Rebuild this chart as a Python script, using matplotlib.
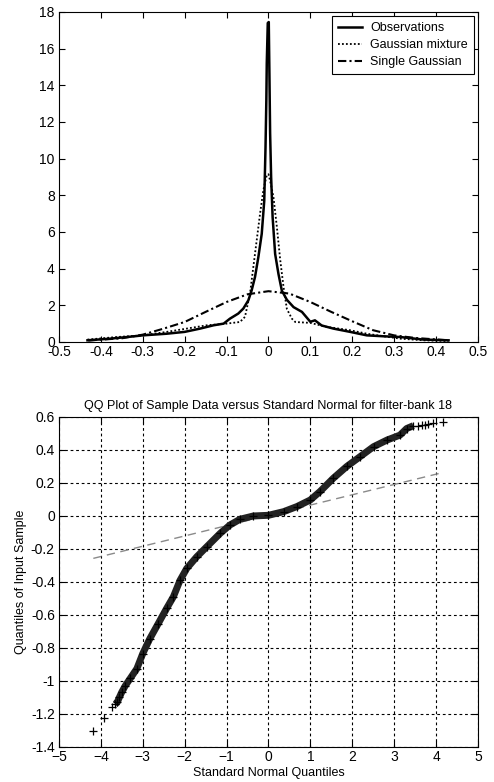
import matplotlib
matplotlib.use("Agg")
import matplotlib.pyplot as plt

plt.rcParams["font.family"] = ["Liberation Sans", "DejaVu Sans"]
plt.rcParams["font.size"] = 10

# --- top panel: densities ---
obs_x = [-0.432, -0.378, -0.32, -0.3, -0.243, -0.2, -0.163, -0.131, -0.107, -0.092,
         -0.072, -0.06, -0.048, -0.04, -0.032, -0.024, -0.016, -0.010, -0.007, -0.005,
         -0.004, -0.0016, 0.0008, 0.0024, 0.004, 0.0064, 0.01, 0.016, 0.024, 0.032,
         0.044, 0.06, 0.08, 0.1, 0.111, 0.127, 0.155, 0.195, 0.235, 0.275,
         0.315, 0.37, 0.43]
obs_y = [0.09, 0.18, 0.31, 0.36, 0.45, 0.55, 0.73, 0.91, 1.0, 1.27,
         1.55, 1.82, 2.27, 2.82, 3.55, 4.64, 5.9, 7.7, 10.6, 13.2,
         15.2, 17.4, 17.45, 14.5, 11.4, 9.0, 6.8, 4.8, 3.7, 2.8,
         2.3, 1.9, 1.64, 1.1, 1.18, 0.9, 0.73, 0.55, 0.36, 0.31,
         0.27, 0.13, 0.09]

mix_x = [-0.432, -0.362, -0.3, -0.243, -0.195, -0.147, -0.1, -0.068, -0.056, -0.044,
         -0.036, -0.028, -0.02, -0.012, -0.004, 0.0, 0.004, 0.012, 0.02, 0.028,
         0.036, 0.044, 0.056, 0.064, 0.1, 0.14, 0.195, 0.235, 0.275, 0.315,
         0.37, 0.43]
mix_y = [0.13, 0.27, 0.36, 0.55, 0.73, 0.91, 1.0, 1.09, 1.37, 2.64,
         4.1, 5.55, 7.0, 8.3, 9.1, 9.15, 8.8, 7.9, 6.3, 4.5,
         3.0, 1.8, 1.27, 1.09, 1.04, 0.82, 0.64, 0.45, 0.31, 0.18,
         0.09, 0.05]

gau_x = [-0.43, -0.35, -0.3, -0.25, -0.2, -0.15, -0.1, -0.05, 0.0,
         0.05, 0.1, 0.15, 0.2, 0.25, 0.3, 0.35, 0.43]
gau_y = [0.08, 0.2, 0.4, 0.73, 1.09, 1.64, 2.18, 2.6, 2.77,
         2.64, 2.18, 1.64, 1.13, 0.64, 0.36, 0.22, 0.09]

top_xticks = [-0.5, -0.4, -0.3, -0.2, -0.1, 0, 0.1, 0.2, 0.3, 0.4, 0.5]
top_xlabels = ["-0.5", "-0.4", "-0.3", "-0.2", "-0.1", "0", "0.1", "0.2", "0.3", "0.4", "0.5"]
top_yticks = [0, 2, 4, 6, 8, 10, 12, 14, 16, 18]

# --- bottom panel: QQ plot ---
core_x = [-3.66, -3.61, -3.56, -3.50, -3.42, -3.30, -3.14, -3.0, -2.83, -2.63,
          -2.43, -2.27, -2.11, -1.95, -1.71, -1.47, -1.15, -0.92, -0.68, -0.36,
          0.0, 0.36, 0.68, 1.0, 1.23, 1.55, 1.87, 2.19, 2.51, 2.83,
          3.14, 3.30, 3.46]
core_y = [-1.14, -1.13, -1.10, -1.067, -1.03, -0.985, -0.925, -0.834, -0.743, -0.652,
          -0.56, -0.49, -0.39, -0.318, -0.247, -0.186, -0.105, -0.055, -0.02, 0.0,
          0.004, 0.026, 0.057, 0.097, 0.148, 0.229, 0.30, 0.36, 0.42, 0.46,
          0.49, 0.53, 0.547]
tail_x = [-4.18, -3.92, -3.74, 3.58, 3.66, 3.74, 3.82, 3.94, 4.16]
tail_y = [-1.306, -1.225, -1.158, 0.548, 0.549, 0.552, 0.556, 0.563, 0.567]

ref_x = [-4.18, 4.16]
ref_y = [-0.257, 0.263]

bot_xticks = [-5, -4, -3, -2, -1, 0, 1, 2, 3, 4, 5]
bot_yticks = [-1.4, -1.2, -1.0, -0.8, -0.6, -0.4, -0.2, 0, 0.2, 0.4, 0.6]
bot_ylabels = ["-1.4", "-1.2", "-1", "-0.8", "-0.6", "-0.4", "-0.2", "0", "0.2", "0.4", "0.6"]

fig = plt.figure(figsize=(4.94, 7.82), dpi=100)

ax1 = fig.add_axes([0.1194, 0.5627, 0.848, 0.422])
ax1.plot(obs_x, obs_y, color="black", linewidth=1.8, label="Observations")
ax1.plot(mix_x, mix_y, color="black", linewidth=1.3, linestyle=(0, (1, 1.2)),
         label="Gaussian mixture")
ax1.plot(gau_x, gau_y, color="black", linewidth=1.5, linestyle=(0, (4, 1.5, 1, 1.5)),
         label="Single Gaussian")
ax1.set_xlim(-0.5, 0.5)
ax1.set_ylim(0, 18)
ax1.set_xticks(top_xticks)
ax1.set_xticklabels(top_xlabels)
ax1.set_yticks(top_yticks)
leg = ax1.legend(loc="upper right", fancybox=False, edgecolor="black", framealpha=1,
                 borderaxespad=0.3, handlelength=1.9, labelspacing=0.4,
                 borderpad=0.5, handletextpad=0.7, fontsize=9)
leg.get_frame().set_linewidth(0.8)

ax2 = fig.add_axes([0.1194, 0.0448, 0.848, 0.422])
ax2.plot(ref_x, ref_y, color="#8a8a8a", linewidth=1.0, linestyle=(0, (6, 4)))
ax2.plot(core_x, core_y, color="#222222", linewidth=5, solid_capstyle="butt")
ax2.plot(core_x, core_y, linestyle="none", marker="+", markersize=6,
         markeredgewidth=0.9, color="black")
ax2.plot(tail_x, tail_y, linestyle="none", marker="+", markersize=6,
         markeredgewidth=0.9, color="black")
ax2.set_xlim(-5, 5)
ax2.set_ylim(-1.4, 0.6)
ax2.set_xticks(bot_xticks)
ax2.set_yticks(bot_yticks)
ax2.set_yticklabels(bot_ylabels)
ax2.grid(True, color="black", linestyle=(0, (2.5, 2.5)), linewidth=0.8)
ax2.set_axisbelow(True)
ax2.set_title("QQ Plot of Sample Data versus Standard Normal for filter-bank 18",
              fontsize=9, pad=6)
ax2.set_xlabel("Standard Normal Quantiles", fontsize=9, labelpad=2)
ax2.set_ylabel("Quantiles of Input Sample", fontsize=9, labelpad=3)

for ax in (ax1, ax2):
    ax.tick_params(direction="in", length=4, width=0.8, top=True, right=True)
    ax.tick_params(axis="x", pad=2)
    ax.tick_params(axis="y", pad=3)
    for sp in ax.spines.values():
        sp.set_linewidth(0.8)

fig.savefig("out.png", dpi=100)
